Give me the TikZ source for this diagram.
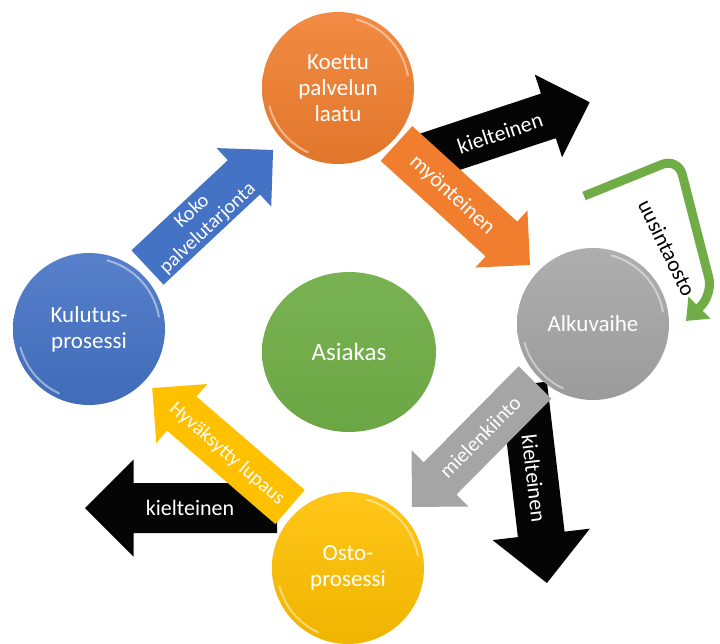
\documentclass[tikz,border=0pt]{standalone}
\usepackage{fontspec}
\setmainfont{Carlito}
\usetikzlibrary{arrows.meta,shapes.geometric}
\definecolor{cOrange}{HTML}{F07E2E}
\definecolor{cBlue}{HTML}{4472C4}
\definecolor{cGray}{HTML}{A5A5A5}
\definecolor{cYellow}{HTML}{FFC000}
\definecolor{cGreen}{HTML}{70AD47}
\definecolor{cBlack}{HTML}{050505}
% #1 rear point, #2 angle, #3 length, #4 shaft width, #5 head half width, #6 colour
\newcommand{\blockarrow}[6]{%
  \begin{scope}[shift={#1}, rotate=#2]
    \fill[#6] (0,{-#4/2}) -- ({#3-#5},{-#4/2}) -- ({#3-#5},{-#5}) -- (#3,0)
      -- ({#3-#5},{#5}) -- ({#3-#5},{#4/2}) -- (0,{#4/2}) -- cycle;
  \end{scope}}
\tikzset{
  ball/.style={circle, minimum size=152pt, inner sep=0pt, text=white, align=center,
    font=\fontsize{23}{26}\selectfont, top color=#1!90!white, bottom color=#1!94!black},
  atext/.style={text=white, align=center, inner sep=0pt, font=\fontsize{22}{24}\selectfont},
  gloss/.style={white, opacity=0.45, line width=2pt, line cap=round}
}
\newcommand{\glossy}[1]{%
  \draw[gloss] ([shift={(10:71pt)}]#1.center) arc[start angle=10, end angle=75, radius=71pt];
  \draw[gloss] ([shift={(195:71pt)}]#1.center) arc[start angle=195, end angle=245, radius=71pt];}
\begin{document}
\begin{tikzpicture}[x=1pt,y=-1pt]
\useasboundingbox (0,0) rectangle (720,643);
\fill[white] (0,0) rectangle (720,643);

% black arrows (below)
\blockarrow{(415,160)}{18.3}{184}{47}{43.5}{cBlack}
\blockarrow{(523.6,384.4)}{-83.3}{200}{47}{49}{cBlack}
\blockarrow{(277,508)}{180}{192}{50}{48.5}{cBlack}

% coloured arrows
\blockarrow{(147.5,267.5)}{43.1}{172}{47}{40}{cBlue}
\blockarrow{(396.5,143.5)}{-42.3}{180.5}{47}{38.6}{cOrange}
\blockarrow{(535,382.5)}{225.3}{175}{46}{40}{cGray}
\blockarrow{(290,507)}{139.2}{182}{45}{39}{cYellow}

% green bent arrow
\coordinate (g1) at (584,196);
\coordinate (g2) at (678,158);
\coordinate (g3) at (713,294);
\coordinate (g4) at (686,321);
\draw[cGreen, line width=9pt, rounded corners=17pt,
  -{Triangle[width=30pt,length=19pt]}] (g1) -- (g2) -- (g3) -- (g4);

% arrow labels
\node[atext, rotate=18.3] (neg1) at (500,133) {kielteinen};
\node[atext, rotate=-83.3] (neg2) at (534,478) {kielteinen};
\node[atext] (neg3) at (190,508) {kielteinen};
\node[atext, rotate=43.1, font=\fontsize{20}{23}\selectfont] (koko) at (200,220) {Koko\\palvelutarjonta};
\node[atext, rotate=-42.3] (myo) at (452,195) {myönteinen};
\node[atext, rotate=45.3, font=\fontsize{21}{24}\selectfont] (mie) at (480,437) {mielenkiinto};
\node[atext, rotate=-40.8, font=\fontsize{20}{24}\selectfont] (hyv) at (227,454) {Hyväksytty lupaus};
\node[text=black, inner sep=0pt, rotate=-64, font=\fontsize{22}{24}\selectfont] (uus) at (667,248) {uusintaosto};

% circles
\node[ball=cOrange] (laatu) at (338,88) {Koettu\\palvelun\\laatu};
\node[ball=cBlue] (kulutus) at (89,329) {Kulutus-\\prosessi};
\node[ball=cGray] (alku) at (593,324) {Alkuvaihe};
\node[ball=cYellow] (osto) at (348,568) {Osto-\\prosessi};
\node[ellipse, minimum width=174pt, minimum height=160pt, inner sep=0pt, text=white,
  top color=cGreen!94!white, bottom color=cGreen!96!black,
  font=\fontsize{25}{28}\selectfont] (asiakas) at (349,352) {Asiakas};
\glossy{laatu}
\glossy{kulutus}
\glossy{alku}
\glossy{osto}
\end{tikzpicture}
\end{document}
